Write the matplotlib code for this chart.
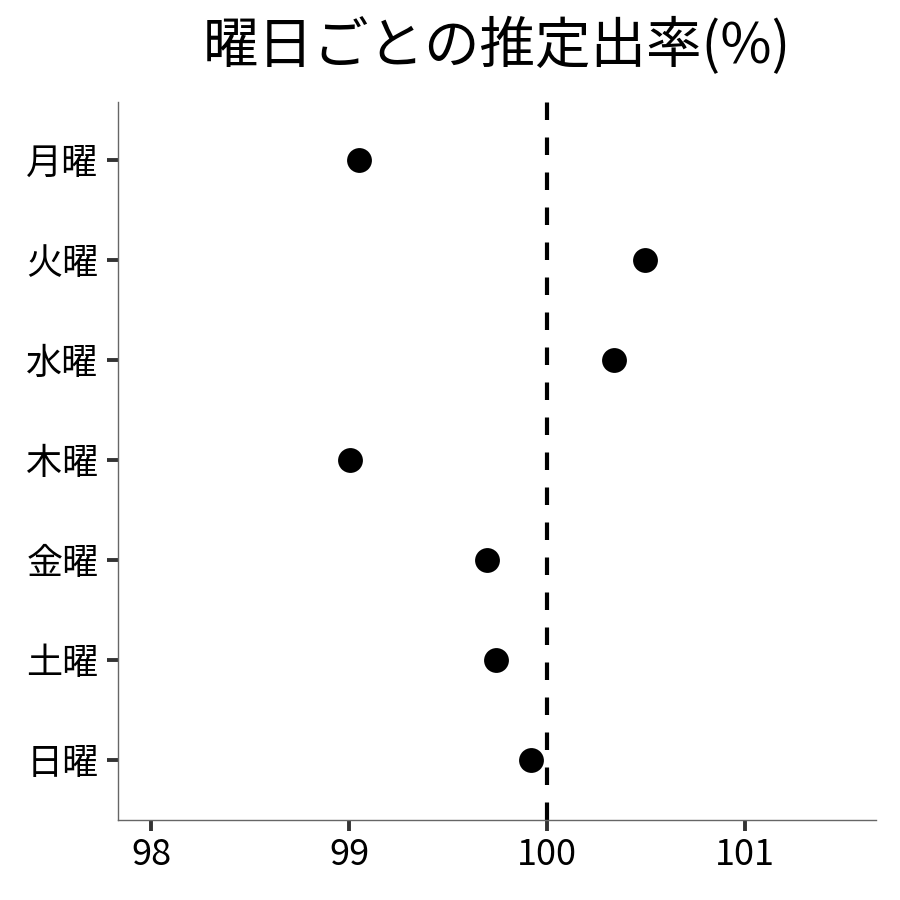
import matplotlib
matplotlib.use("Agg")
import matplotlib.pyplot as plt

plt.rcParams['font.family'] = ['Noto Sans CJK JP', 'DejaVu Sans']

days = ["月曜", "火曜", "水曜", "木曜", "金曜", "土曜", "日曜"]
rates = [99.05, 100.495, 100.338, 99.005, 99.697, 99.742, 99.919]
xticks = [98, 99, 100, 101]
title = "曜日ごとの推定出率(%)"

fig = plt.figure(figsize=(9, 9), dpi=100)
ax = fig.add_axes([118/900, 1-820/900, (876-118)/900, (820-102)/900])

ypos = list(range(1, len(days) + 1))
ax.plot([100, 100], [7.6, 0.42], color="black", lw=3.0,
        dashes=(4.2, 4.2), zorder=1)
ax.scatter(rates, ypos, s=320, color="black", zorder=3, linewidths=0)

ax.set_xlim(97.833, 101.66)
ax.set_ylim(7.6, 0.42)
ax.set_yticks(ypos)
ax.set_yticklabels(days)
ax.set_xticks(xticks)
ax.set_xticklabels([str(v) for v in xticks])

for s in ["top", "right"]:
    ax.spines[s].set_visible(False)
for s in ["left", "bottom"]:
    ax.spines[s].set_color("#666666")
    ax.spines[s].set_linewidth(1.0)

ax.tick_params(axis="both", length=8, width=2.8, color="#333333",
               labelsize=26, labelcolor="black", pad=6)
ax.tick_params(axis="x", pad=4)

fig.text((118+876)/2/900, 1-47/900, title, ha="center", va="center",
         fontsize=40)

fig.savefig("out.png", dpi=100, facecolor="white")
